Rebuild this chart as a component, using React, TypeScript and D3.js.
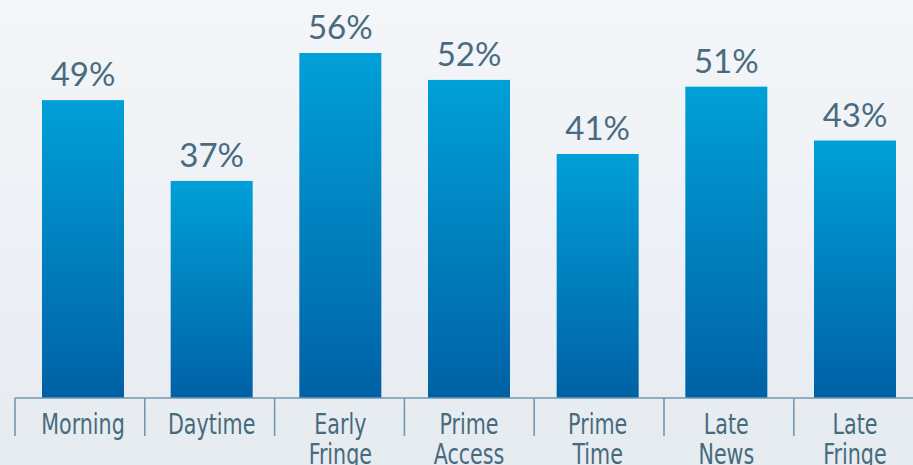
import React from "react";
import * as d3 from "d3";

const categories: string[][] = [
  ["Morning"],
  ["Daytime"],
  ["Early", "Fringe"],
  ["Prime", "Access"],
  ["Prime", "Time"],
  ["Late", "News"],
  ["Late", "Fringe"],
];
const values: number[] = [49, 37, 56, 52, 41, 51, 43];
const valueLabels: string[] = ["49%", "37%", "56%", "52%", "41%", "51%", "43%"];

const W = 913;
const H = 465;
const axisY = 398;

export default function App() {
  const keys = categories.map((c) => c.join(" "));
  const xBar = d3.scalePoint<string>().domain(keys).range([83, 855]);
  const xAxis = d3.scaleBand<string>().domain(keys).range([15, 15 + 7 * 129.8]);
  const y = d3.scaleLinear().domain([0, 56]).range([430, 53]);
  const barW = 82;

  return (
    <svg
      width={W}
      height={H}
      style={{ position: "fixed", left: 0, top: 0, display: "block" }}
    >
      <defs>
        <linearGradient id="bg" x1="0" y1="0" x2="0" y2="1">
          <stop offset="0" stopColor="#f4f6f9" />
          <stop offset="1" stopColor="#e6ebf0" />
        </linearGradient>
        <linearGradient id="bar" x1="0" y1="0" x2="0" y2="1">
          <stop offset="0" stopColor="#00a0d8" />
          <stop offset="1" stopColor="#0061a5" />
        </linearGradient>
      </defs>
      <rect x={0} y={0} width={W} height={H} fill="url(#bg)" />
      {keys.map((k, i) => {
        const cx = xBar(k)!;
        const top = y(values[i]);
        return (
          <g key={k}>
            <rect
              x={cx - barW / 2}
              y={top}
              width={barW}
              height={axisY - top}
              fill="url(#bar)"
            />
            <text
              x={cx}
              y={top - 14}
              textAnchor="middle"
              fontFamily="Lato, 'Open Sans', sans-serif"
              fontWeight={400}
              fontSize={33}
              fill="#4a6b7f"
            >
              {valueLabels[i]}
            </text>
          </g>
        );
      })}
      <line x1={15} x2={W} y1={axisY} y2={axisY} stroke="#6f9ab0" strokeWidth={1.6} />
      {keys.map((k) => (
        <line
          key={"t" + k}
          x1={xAxis(k)!}
          x2={xAxis(k)!}
          y1={axisY}
          y2={436}
          stroke="#6f9ab0"
          strokeWidth={1.6}
        />
      ))}
      {categories.map((lines, i) => (
        <text
          key={"c" + i}
          textAnchor="middle"
          fontFamily="'Liberation Sans Narrow', 'DejaVu Sans Condensed', sans-serif"
          fontSize={28}
          fill="#466a7e"
          transform={`translate(${xBar(keys[i])!},0) scale(0.82,1)`}
        >
          {lines.map((ln, j) => (
            <tspan key={j} x={0} y={434 + j * 30}>
              {ln}
            </tspan>
          ))}
        </text>
      ))}
    </svg>
  );
}
